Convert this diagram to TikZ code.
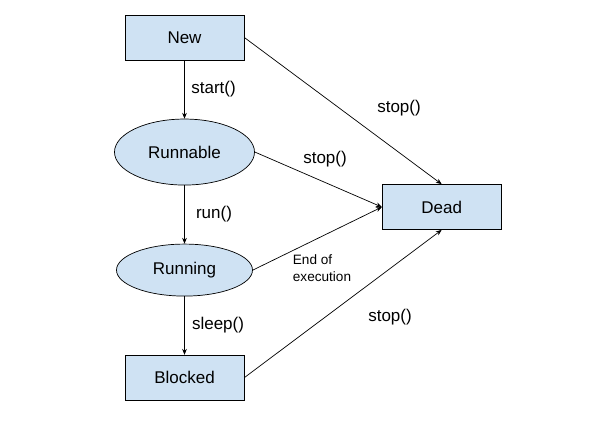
\documentclass[tikz,border=0pt]{standalone}
\usepackage{fontspec}
\setmainfont{Liberation Sans}
\usepackage{xcolor}
\usepackage{tikz}
\usetikzlibrary{shapes.geometric, arrows.meta, positioning}
\definecolor{statefill}{HTML}{CFE2F3}
\tikzstyle{state} = [rectangle, minimum width=3.57cm, minimum height=1.35cm, inner sep=0pt, text centered, draw=black, line width=0.6pt, fill=statefill, font=\fontsize{14.5}{17}\selectfont]
\tikzstyle{oval} = [ellipse, minimum width=4.2cm, minimum height=1.98cm, inner sep=0pt, text centered, draw=black, line width=0.6pt, fill=statefill, font=\fontsize{14.5}{17}\selectfont]
\tikzstyle{arrow} = [line width=0.6pt, -{Stealth[length=5pt, width=4pt]}]
\tikzstyle{lbl} = [font=\fontsize{14.5}{17}\selectfont]

\begin{document}
\begin{tikzpicture}[node distance=1.75cm]
    \useasboundingbox (-5.535,1.125) rectangle (12.255,-11.475);

    \node (new) [state] {New};
    \node (runnable) [oval, below=of new] {Runnable};
    \node (running) [oval, minimum width=4.08cm, minimum height=1.56cm, below=of runnable] {Running};
    \node (blocked) [state, below=of running] {Blocked};
    \node (dead) [state, right=3.81cm of runnable, yshift=-1.65cm] {Dead};

    \draw [arrow] (new) -- node[lbl, right, xshift=0.08cm] {start()} (runnable);
    \draw [arrow] (runnable) -- node[lbl, right, xshift=0.22cm] {run()} (running);
    \draw [arrow] (running) -- node[lbl, right, xshift=0.1cm] {sleep()} (blocked);
    \draw [arrow] (new.east) -- node[lbl, xshift=1.68cm, yshift=0.07cm] {stop()} (dead.north);
    \draw [arrow] (runnable.east) -- node[lbl, xshift=0.2cm, yshift=0.62cm] {stop()} (dead.west);
    \draw [arrow] (running.east) -- node[align=left, font=\fontsize{11.6}{14.5}\selectfont, xshift=0.14cm, yshift=-0.89cm] {End of\\execution} (dead.west);
    \draw [arrow] (blocked.east) -- node[lbl, xshift=1.41cm, yshift=-0.4cm] {stop()} (dead.south);
\end{tikzpicture}
\end{document}
